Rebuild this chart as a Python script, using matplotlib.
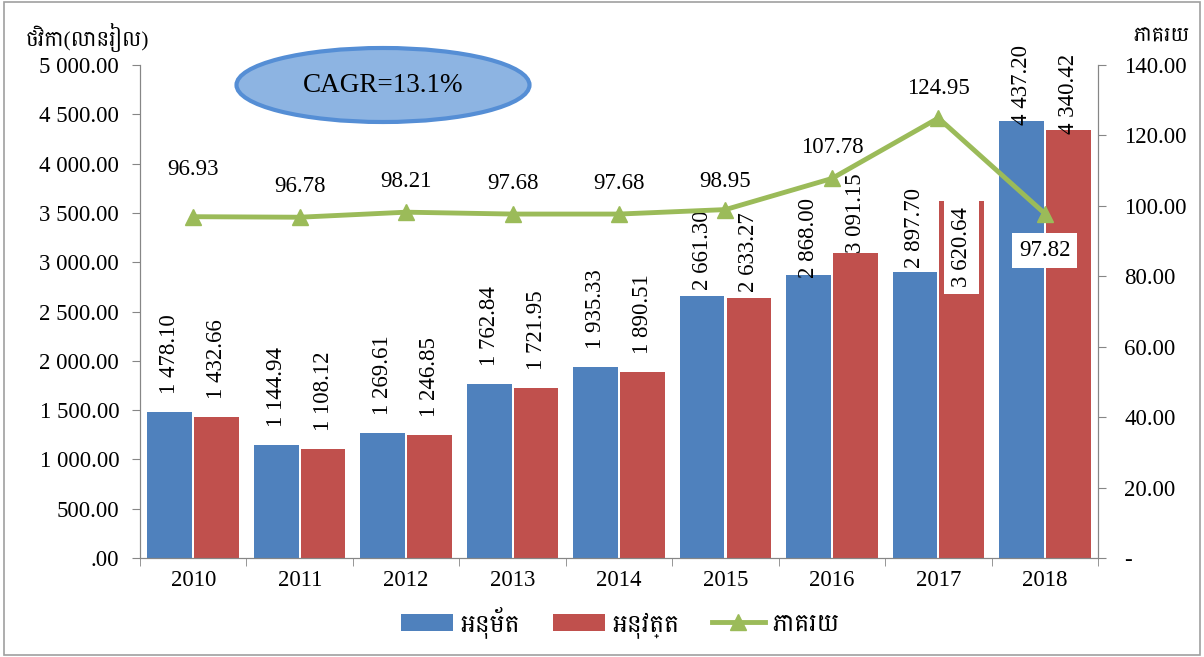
import numpy as np
import matplotlib
matplotlib.use("Agg")
import matplotlib.pyplot as plt
from matplotlib.patches import Ellipse, Rectangle, Patch
from matplotlib.lines import Line2D

plt.rcParams['font.family'] = ['Liberation Serif', 'Battambang', 'DejaVu Sans']

years = ['2010', '2011', '2012', '2013', '2014', '2015', '2016', '2017', '2018']
approved = [1478.10, 1144.94, 1269.61, 1762.84, 1935.33, 2661.30, 2868.00, 2897.70, 4437.20]
executed = [1432.66, 1108.12, 1246.85, 1721.95, 1890.51, 2633.27, 3091.15, 3620.64, 4340.42]
percent = [96.93, 96.78, 98.21, 97.68, 97.68, 98.95, 107.78, 124.95, 97.82]

left_title = 'ថវិកា(លានរៀល)'
right_title = 'ភាគរយ'
legend_labels = ['អនុម័ត', 'អនុវត្ត', 'ភាគរយ']

blue = '#4F81BD'
red = '#C0504D'
green = '#9BBB59'
axis_gray = '#868686'


def fmt(v):
    s = f"{v:,.2f}".replace(",", " ")
    return ".00" if v == 0 else s


fig = plt.figure(figsize=(12.04, 6.57), dpi=100)
fig.patches.append(Rectangle((0.003, 0.003), 0.994, 0.994, transform=fig.transFigure,
                             fill=False, edgecolor='#A0A0A0', linewidth=1.2))
ax = fig.add_axes([0.1163, 0.1507, 0.7957, 0.7503])
ax2 = ax.twinx()

x = np.arange(len(years))
w = 0.42
ax.bar(x - w / 2 - 0.01, approved, width=w, color=blue, zorder=2)
ax.bar(x + w / 2 + 0.01, executed, width=w, color=red, zorder=2)

ax.set_xlim(-0.5, len(years) - 0.5)
ax.set_ylim(0, 5000)
ax.set_yticks(np.arange(0, 5001, 500))
ax.set_yticklabels([fmt(v) for v in np.arange(0, 5001, 500)], fontsize=16.5)
ax.set_xticks(x)
ax.set_xticklabels(years, fontsize=16.5)
ax.set_xticks(np.arange(-0.5, len(years)), minor=True)
ax.tick_params(axis='x', which='major', length=0, pad=9)
ax.tick_params(axis='x', which='minor', length=6, color=axis_gray)
ax.tick_params(axis='y', length=6, color=axis_gray, pad=9)

ax2.set_ylim(0, 140)
ax2.set_yticks(np.arange(0, 141, 20))
ax2.set_yticklabels(['-'] + [f"{v:.2f}" for v in np.arange(20, 141, 20)], fontsize=16.5)
ax2.tick_params(axis='y', length=6, color=axis_gray, pad=13)

for a in (ax, ax2):
    a.spines['top'].set_visible(False)
    for s in ('left', 'right', 'bottom'):
        a.spines[s].set_color(axis_gray)

ax2.plot(x, percent, color=green, linewidth=3.5, marker='^', markersize=11, zorder=3)

# bar labels (pixel gaps above the bar tops, as placed in the source chart)
gap_a = [18, 18, 18, 18, 18, 6, -3, 4, -4]
gap_e = [18, 18, 18, 18, 18, 6, 0, -6, -4]
for i in range(len(years)):
    ax.annotate(fmt(approved[i]), (x[i] - w / 2 - 0.01, approved[i]), xytext=(0, gap_a[i]),
                textcoords='offset pixels', rotation=90, ha='center', va='bottom',
                fontsize=16.5, annotation_clip=False, zorder=5)
    if years[i] == '2017':
        ax.annotate(fmt(executed[i]), (x[i] + w / 2 + 0.01, executed[i]), xytext=(0, gap_e[i]),
                    textcoords='offset pixels', rotation=90, ha='center', va='top',
                    fontsize=16.5, zorder=5,
                    bbox=dict(boxstyle='square,pad=0.3', facecolor='white', edgecolor='none'))
    else:
        ax.annotate(fmt(executed[i]), (x[i] + w / 2 + 0.01, executed[i]), xytext=(0, gap_e[i]),
                    textcoords='offset pixels', rotation=90, ha='center', va='bottom',
                    fontsize=16.5, annotation_clip=False, zorder=5)

# line labels
offsets = [47, 31, 31, 31, 31, 28, 31, 30, -37]
for i in range(len(years)):
    if offsets[i] > 0:
        ax2.annotate(f"{percent[i]:.2f}", (x[i], percent[i]), xytext=(0, offsets[i]),
                     textcoords='offset pixels', ha='center', va='center', fontsize=16.5, zorder=6)
    else:
        ax2.annotate(f"{percent[i]:.2f}", (x[i], percent[i]), xytext=(0, offsets[i]),
                     textcoords='offset pixels', ha='center', va='center', fontsize=16.5, zorder=6,
                     bbox=dict(boxstyle='square,pad=0.3', facecolor='white', edgecolor='none'))

# CAGR bubble
fig.patches.append(Ellipse((383 / 1204, 1 - 85 / 657), 293 / 1204, 74 / 657,
                           transform=fig.transFigure, facecolor='#8DB4E2',
                           edgecolor='#558ED5', linewidth=3, zorder=10))
fig.text(383 / 1204, 1 - 86 / 657, 'CAGR=13.1%', ha='center', va='center', fontsize=19.5, zorder=11)

fig.text(26 / 1204, 1 - 37 / 657, left_title, ha='left', va='center', fontsize=15.5)
fig.text(1190 / 1204, 1 - 37 / 657, right_title, ha='right', va='center', fontsize=15)

handles = [Patch(facecolor=blue), Patch(facecolor=red),
           Line2D([0], [0], color=green, linewidth=3.5, marker='^', markersize=11)]
fig.legend(handles, legend_labels, loc='center', bbox_to_anchor=(0.515, 1 - 622 / 657),
           ncol=3, frameon=False, fontsize=18, handlelength=2.1, columnspacing=1.3,
           handletextpad=0.3)

fig.savefig('out.png', dpi=100)
